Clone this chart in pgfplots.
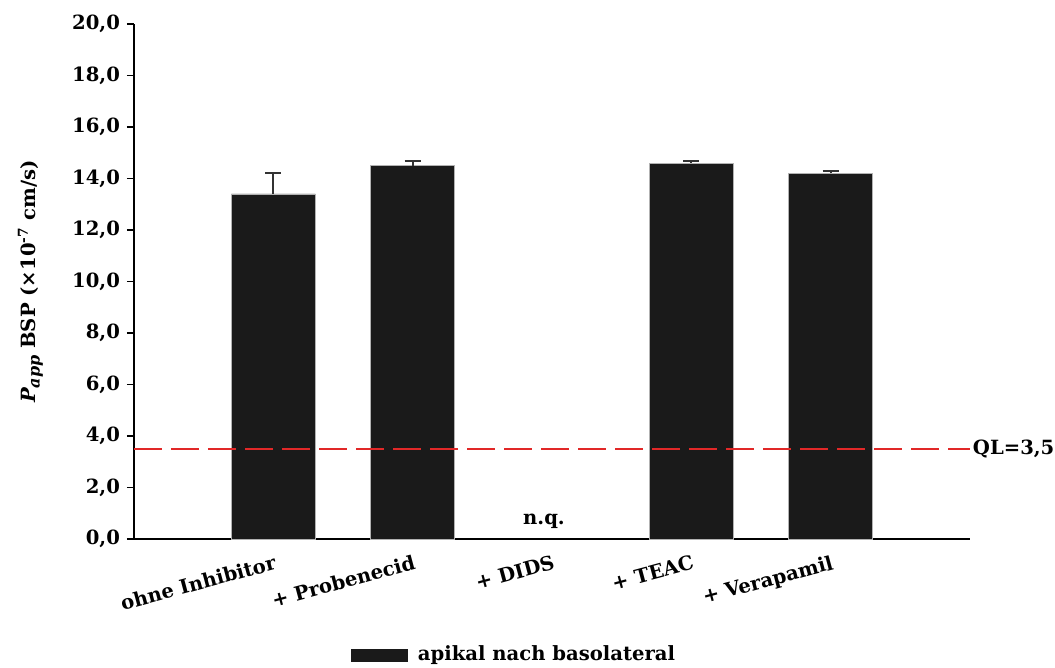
\documentclass[border=0pt]{standalone}
\usepackage{pgfplots}
\pgfplotsset{compat=1.18}
\usepackage{fontspec}
\setmainfont{DejaVu Serif}
\definecolor{qlred}{RGB}{225,40,40}
\definecolor{barblack}{RGB}{26,26,26}
\begin{document}
\begin{tikzpicture}[font=\bfseries\fontsize{9.8}{11}\selectfont]
\useasboundingbox (-67pt,-64.5pt) rectangle (460.5pt,269.5pt);
\begin{axis}[
  scale only axis, width=418pt, height=257.5pt,
  xmin=0, xmax=6, ymin=0, ymax=20,
  axis lines*=left,
  axis line style={line width=0.9pt, black},
  ybar, bar width=42pt,
  ytick={0,2,...,20},
  yticklabel style={/pgf/number format/.cd, fixed, fixed zerofill, precision=1, use comma, assume math mode=true},
  ticklabel style={font=\bfseries\fontsize{9.8}{11}\selectfont},
  tick align=outside,
  major tick length=3.5pt,
  ytick style={line width=0.8pt, black},
  xtick={1,...,5},
  xticklabels={ohne Inhibitor, + Probenecid, + DIDS, + TEAC, + Verapamil},
  xtick style={draw=none},
  x tick label style={rotate=15, anchor=north east, inner sep=1pt, yshift=-3pt},
  every axis y label/.style={at={(axis description cs:-0.124,0.5)}, rotate=90, anchor=center},
  ylabel={{\itshape P\raisebox{-0.45ex}{\fontsize{8}{9}\selectfont app}} BSP (×10\textsuperscript{-7} cm/s)},
  legend style={draw=none, at={(0.456,-0.225)}, anchor=center, font=\bfseries\fontsize{9.8}{11}\selectfont},
  legend image code/.code={\fill[barblack] (0pt,-3pt) rectangle (28pt,3pt); \path (31pt,0pt);},
  clip=false,
]
\addplot[fill=barblack, draw=gray!60, line width=0.3pt,
  error bars/.cd, y dir=plus, y explicit,
  error bar style={line width=1pt, black!80},
  error mark options={rotate=90, mark size=4pt, line width=1pt, black!80}]
  coordinates {(1,13.4) +- (0,0.8) (2,14.5) +- (0,0.17) (4,14.6) +- (0,0.07) (5,14.2) +- (0,0.08)};
\addlegendentry{apikal nach basolateral}
\draw[qlred, line width=1pt, dash pattern=on 14pt off 4.5pt] (axis cs:0,3.5) -- (axis cs:6,3.5) node[right, black, inner sep=1pt] {QL=3,5};
\node[anchor=base, yshift=7pt, xshift=-4pt] at (axis cs:3,0) {n.q.};
\end{axis}
\end{tikzpicture}
\end{document}
